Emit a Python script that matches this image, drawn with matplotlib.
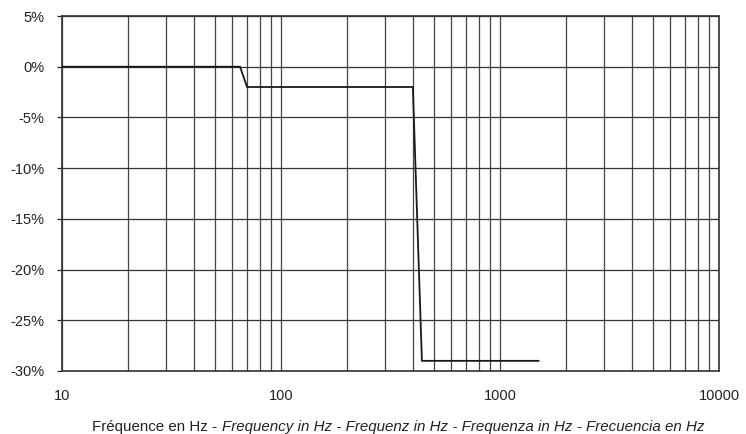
import matplotlib
matplotlib.use("Agg")
import matplotlib.pyplot as plt
from matplotlib.ticker import FixedLocator, FuncFormatter, NullFormatter
from matplotlib.offsetbox import TextArea, HPacker, AnnotationBbox

plt.rcParams["font.family"] = ["Liberation Sans", "DejaVu Sans"]

# frequency response (Hz, % deviation)
freq = [10, 65, 70, 400, 440, 1500]
deviation = [0, 0, -2, -2, -29, -29]

x_ticks = [10, 100, 1000, 10000]
y_ticks = [5, 0, -5, -10, -15, -20, -25, -30]

fig = plt.figure(figsize=(7.46, 4.34), dpi=100)
ax = fig.add_axes([0.0831, 0.1452, 0.8807, 0.8179])

ax.plot(freq, deviation, color="#1a1a1a", lw=1.3, zorder=3)

ax.set_xscale("log")
ax.set_xlim(10, 10000)
ax.set_ylim(-30, 5)

minor = [m * d for d in (10, 100, 1000) for m in range(2, 10)]
ax.xaxis.set_major_locator(FixedLocator(x_ticks))
ax.xaxis.set_minor_locator(FixedLocator(minor))
ax.xaxis.set_minor_formatter(NullFormatter())
ax.xaxis.set_major_formatter(FuncFormatter(lambda v, p: f"{int(v)}"))
ax.yaxis.set_major_locator(FixedLocator(y_ticks))
ax.yaxis.set_major_formatter(FuncFormatter(lambda v, p: f"{int(v)}%"))

ax.grid(True, which="both", axis="x", color="#444444", lw=0.9)
ax.grid(True, which="major", axis="y", color="#333333", lw=0.9)

ax.tick_params(axis="x", which="both", length=0, pad=13, labelsize=10.5, colors="#222222")
ax.tick_params(axis="y", length=3.6, width=0.9, pad=9, labelsize=10.5, colors="#222222")
for s in ax.spines.values():
    s.set_color("#333333")
    s.set_linewidth(1.2)

# mixed-style axis label
parts = [("Fréquence en Hz - ", "normal"),
         ("Frequency in Hz - Frequenz in Hz - Frequenza in Hz - Frecuencia en Hz", "italic")]
boxes = [TextArea(t, textprops=dict(fontsize=10.9, style=s, color="#222222")) for t, s in parts]
pack = HPacker(children=boxes, pad=0, sep=0, align="baseline")
ab = AnnotationBbox(pack, (0.534, 0.016), xycoords="figure fraction",
                    frameon=False, box_alignment=(0.5, 0.5))
fig.add_artist(ab)

fig.savefig("out.png", dpi=100)
